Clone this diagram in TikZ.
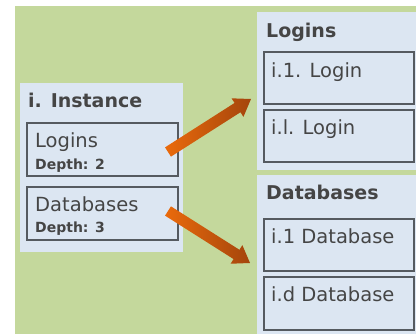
\documentclass[tikz,border=0pt]{standalone}
\usepackage{fontspec}
\setmainfont{DejaVu Sans}
\usetikzlibrary{calc}

\definecolor{bggreen}{HTML}{C4D89C}
\definecolor{panelblue}{HTML}{DCE6F2}
\definecolor{inkgray}{HTML}{454545}
\definecolor{framegray}{HTML}{555A60}
\definecolor{arrowlight}{HTML}{EA6A0C}
\definecolor{arrowdark}{HTML}{A4450C}

\tikzset{
  panel/.style={fill=panelblue, draw=none, anchor=north west, inner sep=0pt},
  itembox/.style={fill=panelblue, draw=framegray, line width=2pt, anchor=north west, inner sep=0pt},
  heading/.style={anchor=base west, inner sep=0pt, text=inkgray, font=\bfseries\fontsize{19}{22}\selectfont},
  label/.style={anchor=base west, inner sep=0pt, text=inkgray, font=\fontsize{19.5}{23}\selectfont},
  depth/.style={anchor=base west, inner sep=0pt, text=inkgray, font=\bfseries\fontsize{14}{17}\selectfont},
  fatarrow/.style={left color=arrowlight, right color=arrowdark, draw=none}
}

% draws a thick block arrow from #1 (tail centre) to #2 (tip)
\newcommand{\blockarrow}[2]{%
  \coordinate (hb) at ($(#2)!16pt!(#1)$);
  \path[fatarrow]
    ($(#1)!5.5pt!90:(#2)$) -- ($(hb)!5.5pt!90:(#2)$) -- ($(hb)!11pt!90:(#2)$)
    -- (#2)
    -- ($(hb)!11pt!-90:(#2)$) -- ($(hb)!5.5pt!-90:(#2)$) -- ($(#1)!5.5pt!-90:(#2)$)
    -- cycle;
}

\begin{document}
\begin{tikzpicture}[x=1pt, y=-1pt]
  \useasboundingbox (0,0) rectangle (416,334);
  \fill[bggreen] (15,6) rectangle (416,334);

  % instance panel
  \node[panel, minimum width=163pt, minimum height=169pt] (inst) at (20,83) {};
  \node[heading] (insttitle) at (28,108) {i. Instance};
  \node[itembox, minimum width=151pt, minimum height=53pt] (loginsbox) at (26,122) {};
  \node[label] (loginslbl) at (35,148) {Logins};
  \node[depth] (loginsdepth) at (35,170) {Depth: 2};
  \node[itembox, minimum width=151pt, minimum height=53pt] (dbbox) at (26,186) {};
  \node[label] (dblbl) at (35,212) {Databases};
  \node[depth] (dbdepth) at (35,233) {Depth: 3};

  % logins panel
  \node[panel, minimum width=165pt, minimum height=158pt] (loginspanel) at (257,12) {};
  \node[heading] (loginstitle) at (266,38) {Logins};
  \node[itembox, minimum width=150pt, minimum height=52pt] (login1) at (263,51) {};
  \node[label] (login1lbl) at (271,78) {i.1. Login};
  \node[itembox, minimum width=150pt, minimum height=52pt] (loginl) at (263,109) {};
  \node[label] (loginllbl) at (271,135) {i.l. Login};

  % databases panel
  \node[panel, minimum width=165pt, minimum height=165pt] (dbpanel) at (257,175) {};
  \node[heading] (dbtitle) at (266,200) {Databases};
  \node[itembox, minimum width=150pt, minimum height=52pt] (db1) at (263,218) {};
  \node[label] (db1lbl) at (271,244) {i.1 Database};
  \node[itembox, minimum width=150pt, minimum height=53pt] (dbd) at (263,276) {};
  \node[label] (dbdlbl) at (271,302) {i.d Database};

  % connectors
  \coordinate (a1tail) at (168,152);
  \coordinate (a1tip) at (251,99);
  \coordinate (a2tail) at (168,211);
  \coordinate (a2tip) at (250,263);
  \blockarrow{a1tail}{a1tip}
  \blockarrow{a2tail}{a2tip}
\end{tikzpicture}
\end{document}
